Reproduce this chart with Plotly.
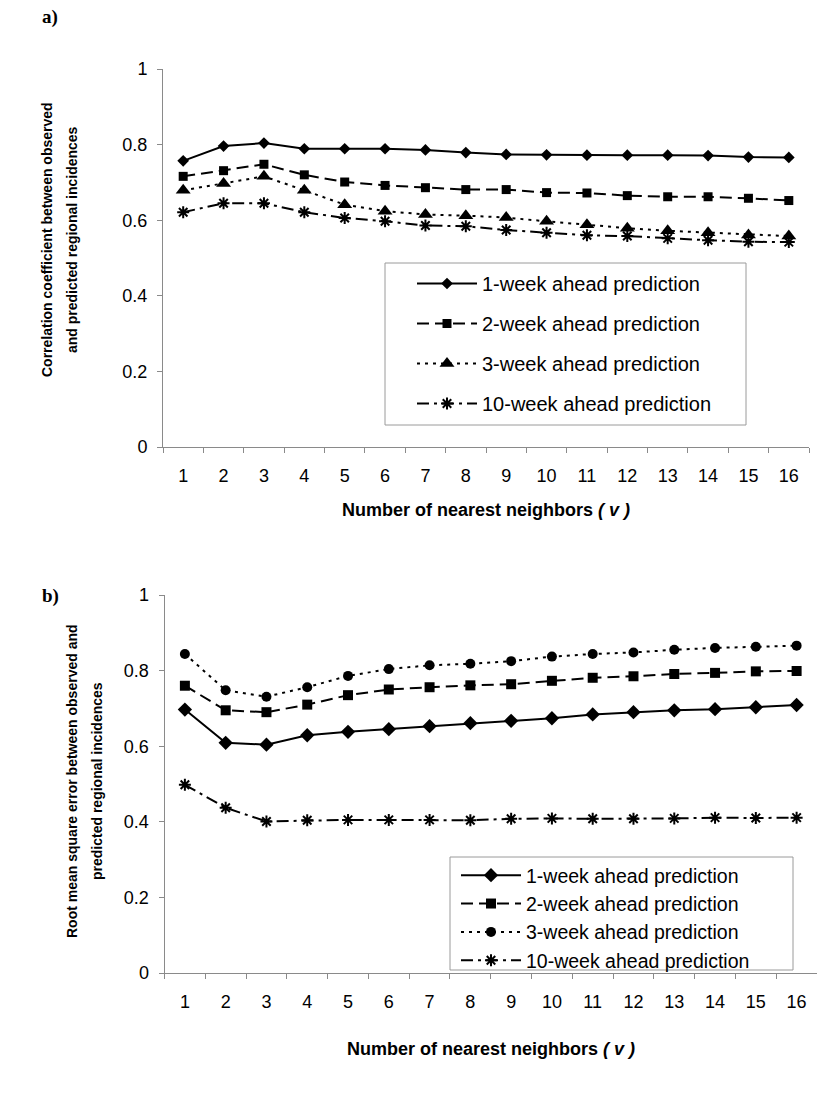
import plotly.graph_objects as go

# ---------------- data ----------------
neighbors = list(range(1, 17))
series_names = ["1-week ahead prediction", "2-week ahead prediction",
                "3-week ahead prediction", "10-week ahead prediction"]

corr_1wk = [0.757, 0.796, 0.804, 0.789, 0.789, 0.789, 0.786, 0.779,
            0.774, 0.773, 0.772, 0.772, 0.772, 0.771, 0.767, 0.766]
corr_2wk = [0.716, 0.731, 0.748, 0.720, 0.701, 0.692, 0.686, 0.681,
            0.681, 0.673, 0.672, 0.665, 0.662, 0.662, 0.658, 0.652]
corr_3wk = [0.679, 0.697, 0.716, 0.679, 0.641, 0.624, 0.615, 0.612,
            0.607, 0.597, 0.588, 0.579, 0.572, 0.567, 0.561, 0.558]
corr_10wk = [0.621, 0.645, 0.645, 0.621, 0.606, 0.597, 0.586, 0.584,
             0.574, 0.567, 0.560, 0.558, 0.552, 0.547, 0.543, 0.542]

rmse_1wk = [0.697, 0.609, 0.604, 0.629, 0.638, 0.645, 0.653, 0.661,
            0.667, 0.674, 0.684, 0.690, 0.695, 0.698, 0.703, 0.709]
rmse_2wk = [0.760, 0.695, 0.690, 0.710, 0.735, 0.750, 0.756, 0.761,
            0.764, 0.773, 0.781, 0.785, 0.791, 0.794, 0.798, 0.799]
rmse_3wk = [0.844, 0.748, 0.731, 0.756, 0.786, 0.804, 0.814, 0.818,
            0.825, 0.837, 0.844, 0.848, 0.855, 0.860, 0.863, 0.866]
rmse_10wk = [0.498, 0.437, 0.401, 0.404, 0.405, 0.405, 0.405, 0.404,
             0.408, 0.409, 0.408, 0.408, 0.409, 0.411, 0.410, 0.411]

y_ticks = [0, 0.2, 0.4, 0.6, 0.8, 1]
y_tick_text = ["0", "0.2", "0.4", "0.6", "0.8", "1"]

# ---------------- styles ----------------
W, H = 817, 1101
ML, MR = 160, 0
PW = W - ML - MR

def px_x(p):
    return (p - ML) / PW

def px_y(p):
    return 1 - p / H

dashes = ["solid", "12px,6px", "3px,5px", "12px,5px,3px,5px"]
symbols_a = ["diamond", "square", "triangle-up", "asterisk-open"]
symbols_b = ["diamond", "square", "circle", "asterisk-open"]
sizes_a = [9, 9, 13, 10]
sizes_b = [11, 10, 10, 10]

fig = go.Figure()

panel_a = [corr_1wk, corr_2wk, corr_3wk, corr_10wk]
panel_b = [rmse_1wk, rmse_2wk, rmse_3wk, rmse_10wk]

for i, (name, ys) in enumerate(zip(series_names, panel_a)):
    fig.add_trace(go.Scatter(
        x=neighbors, y=ys, name=name, mode="lines+markers",
        xaxis="x", yaxis="y", legend="legend", legendgroup="a%d" % i,
        line=dict(color="black", width=2, dash=dashes[i]),
        marker=dict(symbol=symbols_a[i], size=sizes_a[i], color="black",
                    line=dict(color="black", width=2 if i == 3 else 0)),
        cliponaxis=False))

for i, (name, ys) in enumerate(zip(series_names, panel_b)):
    fig.add_trace(go.Scatter(
        x=neighbors, y=ys, name=name, mode="lines+markers",
        xaxis="x2", yaxis="y2", legend="legend2", legendgroup="b%d" % i,
        line=dict(color="black", width=2, dash=dashes[i]),
        marker=dict(symbol=symbols_b[i], size=sizes_b[i], color="black",
                    line=dict(color="black", width=2 if i == 3 else 0)),
        cliponaxis=False))

FONT = "Liberation Sans, Arial, sans-serif"
axis_col = "#8a8a8a"

def xaxis(domain, anchor):
    return dict(domain=domain, anchor=anchor, range=[0.5, 16.5],
                tickmode="array", tickvals=neighbors,
                ticktext=[str(n) for n in neighbors],
                ticks="", ticklabelstandoff=12, ticklabeloverflow="allow",
                tickfont=dict(family=FONT, size=18, color="black"),
                showline=True, linecolor=axis_col, linewidth=1,
                showgrid=False, zeroline=False, fixedrange=True,
                minor=dict(tickmode="array",
                           tickvals=[n + 0.5 for n in range(0, 17)],
                           ticks="outside", ticklen=5, tickcolor=axis_col,
                           tickwidth=1, showgrid=False))

def yaxis(domain, anchor):
    return dict(domain=domain, anchor=anchor, range=[0, 1],
                tickmode="array", tickvals=y_ticks, ticktext=y_tick_text,
                ticks="outside", ticklen=5, tickcolor=axis_col,
                ticklabelstandoff=6,
                tickfont=dict(family=FONT, size=18, color="black"),
                showline=True, linecolor=axis_col, linewidth=1,
                showgrid=False, zeroline=False, fixedrange=True)

dom_ya = [px_y(447), px_y(69)]
dom_yb = [px_y(973), px_y(595)]
dom_xa = [px_x(163), px_x(809)]
dom_xb = [px_x(164.5), 1.0]

legend_common = dict(
    bgcolor="rgba(0,0,0,0)", borderwidth=0,
    xanchor="left", yanchor="top", itemwidth=60,
    traceorder="grouped", itemclick=False)

fig.update_layout(
    width=W, height=H,
    margin=dict(l=ML, r=MR, t=0, b=0, autoexpand=False),
    paper_bgcolor="white", plot_bgcolor="white",
    xaxis=xaxis(dom_xa, "y"), yaxis=yaxis(dom_ya, "x"),
    xaxis2=xaxis(dom_xb, "y2"), yaxis2=yaxis(dom_yb, "x2"),
    legend=dict(x=px_x(412), y=px_y(264), tracegroupgap=11,
                font=dict(family=FONT, size=20, color="black"), **legend_common),
    legend2=dict(x=px_x(456), y=px_y(856), tracegroupgap=0,
                 font=dict(family=FONT, size=19.5, color="black"), **legend_common),
    showlegend=True,
)

# legend frames
box_style = dict(type="rect", xref="paper", yref="paper", layer="below",
                 line=dict(color="#9a9a9a", width=1), fillcolor="white")
fig.add_shape(x0=px_x(385), x1=px_x(746), y0=px_y(425), y1=px_y(263), **box_style)
fig.add_shape(x0=px_x(450), x1=px_x(793), y0=px_y(970), y1=px_y(857), **box_style)

ann = []
def add_text(text, xp, yp, size, angle=0, family=FONT):
    ann.append(dict(text=text, x=px_x(xp), y=px_y(yp), xref="paper", yref="paper",
                    showarrow=False, textangle=angle,
                    font=dict(family=family, size=size, color="black"),
                    xanchor="center", yanchor="middle"))

add_text("<b>a)</b>", 50, 17, 19, family="Liberation Serif, Times New Roman, serif")
add_text("<b>b)</b>", 50, 596, 19, family="Liberation Serif, Times New Roman, serif")
add_text("<b>Correlation coefficient between observed</b>", 47, 240, 14, angle=-90)
add_text("<b>and predicted regional incidences</b>", 72, 240, 14, angle=-90)
add_text("<b>Root mean square error between observed and</b>", 72, 781, 14, angle=-90)
add_text("<b>predicted regional incidences</b>", 97, 781, 14, angle=-90)
add_text("<b>Number of nearest neighbors <i>( v )</i></b>", 486, 510, 18)
add_text("<b>Number of nearest neighbors <i>( v )</i></b>", 491, 1049, 18)
fig.update_layout(annotations=ann)

fig.write_html("out.html",
               config={"displayModeBar": False, "staticPlot": True},
               post_script="document.body.style.margin='0';"
                           "document.body.style.overflow='hidden';")
